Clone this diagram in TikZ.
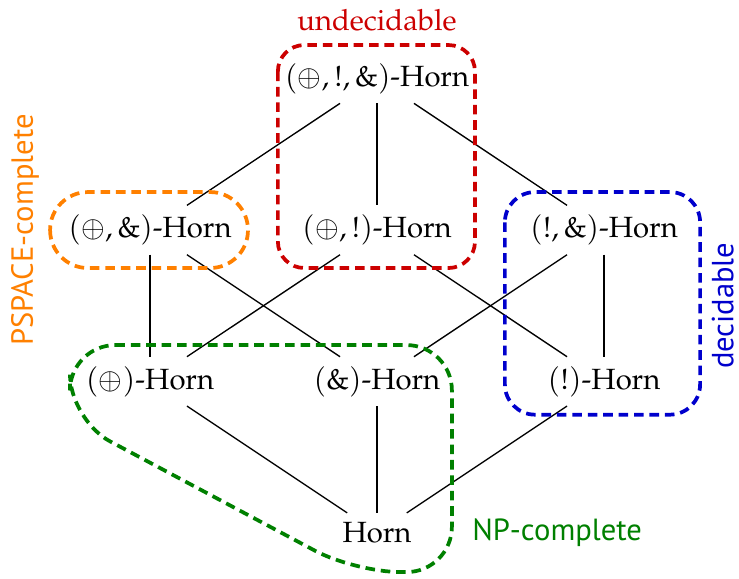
\documentclass[tikz,border=0pt]{standalone}
\usepackage{fontspec}
\newfontfamily\sansfam{PT Sans}
\usepackage[T1]{fontenc}
\usepackage{mathpazo}
\usepackage{color}
\newcommand{\sanslabel}[1]{{\sansfam\fontsize{11.5}{13}\selectfont #1}}

\begin{document}
\begin{tikzpicture}[auto,
    font=\fontsize{11}{13}\selectfont,
    region/.style={line width=1.4pt, dash pattern=on 3.6pt off 2.2pt}]
        \useasboundingbox (-1.982, -4.599) rectangle (7.784, 3.04);
        \node (PBW) at (3, 2) {$(\oplus, !, \&)$-Horn};
        \node (PW) at (0, 0) {$(\oplus, \&)$-Horn};
        \node (PB) at (3, 0) {$(\oplus, !)$-Horn};
        \node (BW) at (6, 0) {$(!, \&)$-Horn};
        \node (P) at (0, -2) {$(\oplus)$-Horn};
        \node (W) at (3, -2) {$(\&)$-Horn};
        \node (B) at (6, -2) {$(!)$-Horn};
        \node (H) at (3, -4) {Horn};
        \draw[-, line width=0.5pt] (PBW) to (PW);
        \draw[-, line width=0.5pt] (PBW) to (PB);
        \draw[-, line width=0.5pt] (PBW) to (BW);
        \draw[-, line width=0.5pt] (PW) to (P);
        \draw[-, line width=0.5pt] (PW) to (W);
        \draw[-, line width=0.5pt] (PB) to (P);
        \draw[-, line width=0.5pt] (PB) to (B);
        \draw[-, line width=0.5pt] (BW) to (W);
        \draw[-, line width=0.5pt] (BW) to (B);
        \draw[-, line width=0.5pt] (P) to (H);
        \draw[-, line width=0.5pt] (W) to (H);
        \draw[-, line width=0.5pt] (B) to (H);

        \draw[region, red!80!black, rounded corners=0.35cm] (1.69, 2.445) rectangle (4.295, -0.502);
        \draw[region, orange, rounded corners=0.5cm] (-1.32, 0.502) rectangle (1.295, -0.502);
        \draw[region, blue!80!black, rounded corners=0.4cm] (4.69, 0.502) rectangle (7.27, -2.44);
        \draw[region, green!50!black, rounded corners=0.6cm] (-1.057, -1.52) -- (3.99, -1.52) -- (3.99, -4.52) -- (2.71, -4.52) -- (-1.057, -2.51) -- cycle;

        \node[red!80!black] (undec) at (3, 2.775) {undecidable};
        \node[orange, rotate=90, inner sep=0pt] (pspace) at (-1.65, 0) {\sanslabel{PSPACE-complete}};
        \node[blue!80!black, rotate=90, inner sep=0pt] (dec) at (7.57, -1) {\sanslabel{decidable}};
        \node[green!50!black] (np) at (5.38, -4) {\sanslabel{NP-complete}};

      \end{tikzpicture}
\end{document}
